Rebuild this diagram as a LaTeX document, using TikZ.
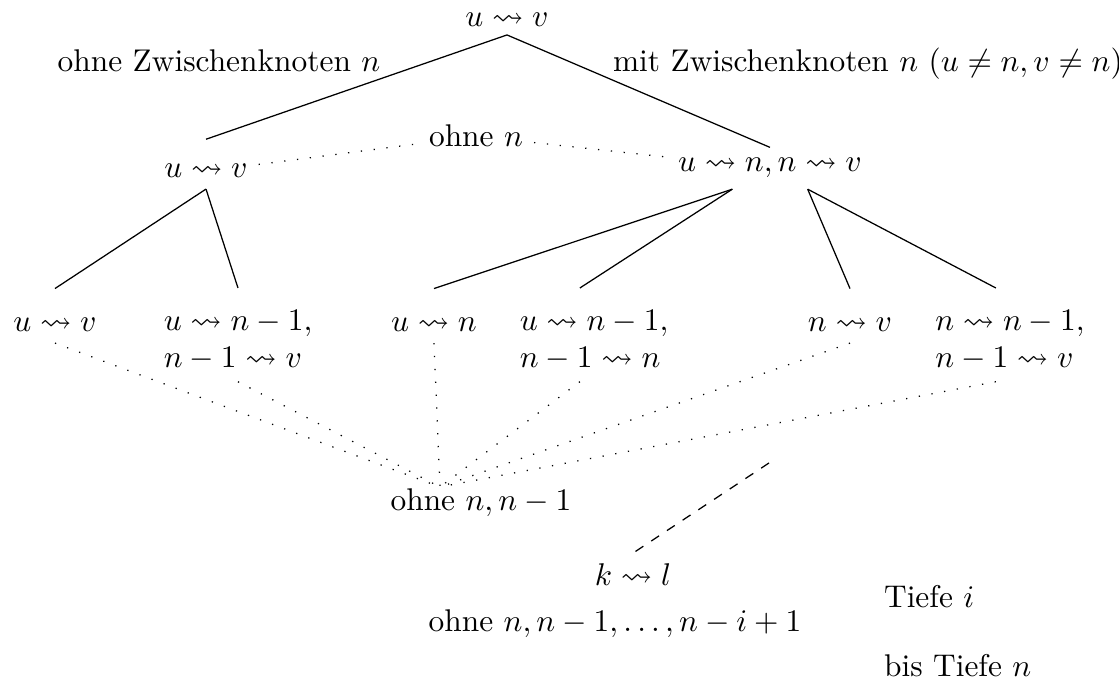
\documentclass[tikz,border=0pt]{standalone}
\usepackage{amsmath}
\usepackage{amssymb}

\begin{document}
\begin{tikzpicture}[
    x=0.3185pt, y=-0.3185pt,
    term/.style={anchor=base},
    multi/.style={anchor=base, align=left},
    lbl/.style={anchor=base},
    dots/.style={dash pattern=on 0.4pt off 3.7pt},
]
\useasboundingbox (0,0) rectangle (1119,682);
% root and first split
\node[term] (top) at (507,27) {$u \leadsto v$};
\node[lbl] (lohne) at (219,72) {ohne Zwischenknoten $n$};
\node[lbl, anchor=base west] (lmit) at (602,72) {mit Zwischenknoten $n$ ($u \neq n, v \neq n$)};
\node[term] (l2a) at (206,178) {$u \leadsto v$};
\node[term] (l2b) at (770,172) {$u \leadsto n, n \leadsto v$};
\node[lbl] (ohnen) at (476,147) {ohne $n$};
\draw ([yshift=1pt]top.south) -- ([yshift=4.5pt]l2a.north);
\draw ([yshift=1pt]top.south) -- (l2b.north);
\draw[dots] (l2a) -- (ohnen) -- (l2b);
% second level
\node[term] (r3a) at (55,332) {$u \leadsto v$};
\node[multi] (r3b) at (238,368) {$u \leadsto n-1,$\\$n-1 \leadsto v$};
\node[term] (r3c) at (434,332) {$u \leadsto n$};
\node[multi] (r3d) at (594,368) {$u \leadsto n-1,$\\$n-1 \leadsto n$};
\node[term] (r3e) at (850,332) {$n \leadsto v$};
\node[multi] (r3f) at (1010,368) {$n \leadsto n-1,$\\$n-1 \leadsto v$};
\draw (l2a.south) -- ([yshift=6pt]r3a.north);
\draw (l2a.south) -- ([yshift=3.5pt]r3b.north);
\draw ([xshift=-12pt]l2b.south) -- ([yshift=6pt]r3c.north);
\draw ([xshift=-12pt]l2b.south) -- ([xshift=-4.5pt,yshift=3.5pt]r3d.north);
\draw ([xshift=12pt]l2b.south) -- ([yshift=6pt]r3e.north);
\draw ([xshift=12pt]l2b.south) -- ([xshift=-4.5pt,yshift=3.5pt]r3f.north);
% without n and n-1
\coordinate (conv) at (440,487);
\node[lbl] (ohnenn) at (481,511) {ohne $n, n-1$};
\foreach \x in {r3a,r3b,r3c,r3e} {
    \draw[dots] (\x.south) -- (conv);
}
\draw[dots] ([xshift=-4.5pt]r3d.south) -- (conv);
\draw[dots] ([xshift=-4.5pt]r3f.south) -- (conv);
% depth i
\coordinate (dtop) at (769,463);
\node[term] (kl) at (633,586) {$k \leadsto l$};
\node[lbl] (ohnei) at (615,632) {ohne $n, n-1, \ldots, n-i+1$};
\draw[dashed] (dtop) -- (kl.north);
\node[lbl, anchor=base west] (tiefe) at (873,608) {Tiefe $i$};
\node[lbl, anchor=base west] (bis) at (873,677) {bis Tiefe $n$};
\end{tikzpicture}
\end{document}
